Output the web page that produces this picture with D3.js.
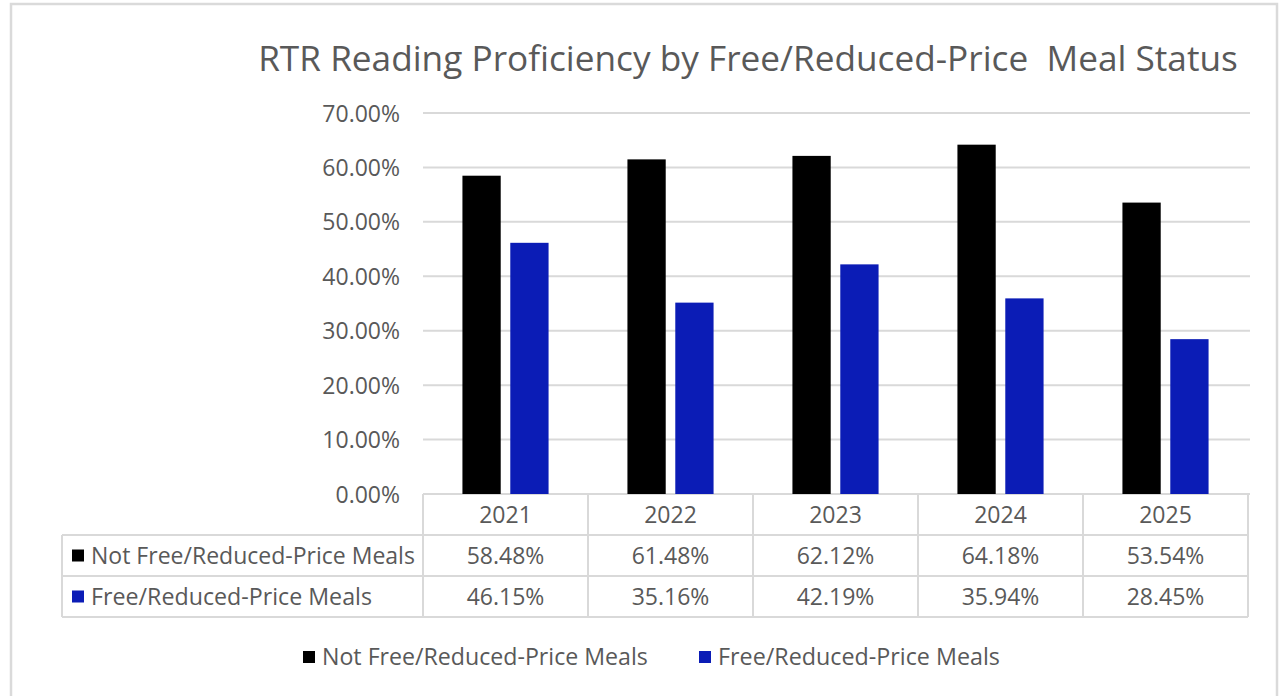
<!DOCTYPE html>
<html>
<head>
<meta charset="utf-8">
<script src="https://cdn.jsdelivr.net/npm/d3@7"></script>
<style>
  html, body { margin: 0; padding: 0; background: #ffffff; }
  svg { display: block; }
  text { font-family: "Open Sans", "Noto Sans", sans-serif; fill: #595959; }
</style>
</head>
<body>
<svg id="chart" width="1282" height="696"></svg>
<script>
// ---- data ----
const categories = ["2021", "2022", "2023", "2024", "2025"];
const seriesNames = ["Not Free/Reduced-Price Meals", "Free/Reduced-Price Meals"];
const notFreeReduced = [58.48, 61.48, 62.12, 64.18, 53.54];
const freeReduced = [46.15, 35.16, 42.19, 35.94, 28.45];
const yTicks = [0, 10, 20, 30, 40, 50, 60, 70];
const titleText = "RTR Reading Proficiency by Free/Reduced-Price\u00A0 Meal Status";
const seriesColors = ["#000000", "#0b1cb6"];

const seriesValues = [notFreeReduced, freeReduced];

const svg = d3.select("#chart");
const gridColor = "#d9d9d9";

// outer frame
svg.append("rect")
  .attr("x", 11).attr("y", 4)
  .attr("width", 1266).attr("height", 720)
  .attr("fill", "#ffffff")
  .attr("stroke", "#dadada").attr("stroke-width", 2.5);

// scales
const plotLeft = 423, plotRight = 1248, plotTop = 113, plotBottom = 494;
const y = d3.scaleLinear().domain([0, 70]).range([plotBottom, plotTop]);
const x0 = d3.scaleBand().domain(categories).range([plotLeft, plotRight]).padding(0);
const x1 = d3.scaleBand().domain(seriesNames)
  .range([x0.bandwidth() * 0.239, x0.bandwidth() * 0.761]).paddingInner(0.2);

function fitFont(sel, target, base) {
  sel.style("font-size", base + "px");
  const w = sel.node().getComputedTextLength();
  sel.style("font-size", (base * target / w) + "px");
  return sel;
}

// title
const title = svg.append("text")
  .attr("x", 748).attr("y", 71)
  .attr("text-anchor", "middle")
  .text(titleText);
fitFont(title, 980, 30);

// gridlines
svg.append("g").selectAll("line")
  .data(yTicks)
  .join("line")
  .attr("x1", plotLeft).attr("x2", plotRight + 2)
  .attr("y1", d => y(d)).attr("y2", d => y(d))
  .attr("stroke", gridColor).attr("stroke-width", 2);

// y axis labels
const yAxis = d3.axisLeft(y).tickValues(yTicks)
  .tickFormat(d => d3.format(".2f")(d) + "%")
  .tickSize(0).tickPadding(0);
const yg = svg.append("g").attr("transform", "translate(400,0)").call(yAxis);
yg.select(".domain").remove();
yg.selectAll("text")
  .attr("fill", "#595959")
  .style("font-family", "\"Open Sans\", sans-serif")
  .style("font-size", "23px")
  .attr("dy", "0.35em");

// bars
const groups = svg.append("g").selectAll("g")
  .data(categories)
  .join("g")
  .attr("transform", d => `translate(${x0(d)},0)`);

groups.selectAll("rect")
  .data((d, i) => seriesNames.map((s, j) => ({ s, j, v: seriesValues[j][i] })))
  .join("rect")
  .attr("x", d => x1(d.s))
  .attr("width", x1.bandwidth())
  .attr("y", d => y(d.v))
  .attr("height", d => y(0) - y(d.v))
  .attr("fill", d => seriesColors[d.j]);

// data table
const tableLeft = 62;
const rowTops = [494, 535, 576, 617];
const table = svg.append("g");
// horizontal lines
table.selectAll("line.h")
  .data(rowTops.slice(1))
  .join("line")
  .attr("class", "h")
  .attr("x1", tableLeft).attr("x2", plotRight)
  .attr("y1", d => d).attr("y2", d => d)
  .attr("stroke", gridColor).attr("stroke-width", 2);
// vertical lines
const colEdges = categories.map(c => x0(c)).concat([plotRight]);
table.selectAll("line.v")
  .data(colEdges)
  .join("line")
  .attr("class", "v")
  .attr("x1", d => d).attr("x2", d => d)
  .attr("y1", rowTops[0]).attr("y2", rowTops[3])
  .attr("stroke", gridColor).attr("stroke-width", 2);
table.append("line")
  .attr("x1", tableLeft).attr("x2", tableLeft)
  .attr("y1", rowTops[1]).attr("y2", rowTops[3])
  .attr("stroke", gridColor).attr("stroke-width", 2);

// header years
table.selectAll("text.year")
  .data(categories)
  .join("text")
  .attr("class", "year")
  .attr("x", d => x0(d) + x0.bandwidth() / 2)
  .attr("y", (rowTops[0] + rowTops[1]) / 2)
  .attr("dy", "0.35em")
  .attr("text-anchor", "middle")
  .style("font-size", "23px")
  .text(d => d);

// value rows
seriesNames.forEach((s, j) => {
  const cy = (rowTops[j + 1] + rowTops[j + 2]) / 2;
  table.selectAll("text.val" + j)
    .data(seriesValues[j])
    .join("text")
    .attr("class", "val" + j)
    .attr("x", (d, i) => x0(categories[i]) + x0.bandwidth() / 2)
    .attr("y", cy)
    .attr("dy", "0.35em")
    .attr("text-anchor", "middle")
    .style("font-size", "23px")
    .text(d => d3.format(".2f")(d) + "%");
  table.append("rect")
    .attr("x", 72).attr("y", cy - 6)
    .attr("width", 12).attr("height", 12)
    .attr("fill", seriesColors[j]);
  const lbl = table.append("text")
    .attr("x", 91).attr("y", cy)
    .attr("dy", "0.35em")
    .text(s);
  fitFont(lbl, j === 0 ? 324 : 281, 22);
});

// legend
const legendY = 657;
const legendX = [303, 699];
const legend = svg.append("g");
seriesNames.forEach((s, j) => {
  legend.append("rect")
    .attr("x", legendX[j]).attr("y", legendY - 6)
    .attr("width", 12).attr("height", 12)
    .attr("fill", seriesColors[j]);
  const t = legend.append("text")
    .attr("x", legendX[j] + 19).attr("y", legendY)
    .attr("dy", "0.35em")
    .text(s);
  fitFont(t, j === 0 ? 326 : 282, 22);
});
</script>
</body>
</html>
